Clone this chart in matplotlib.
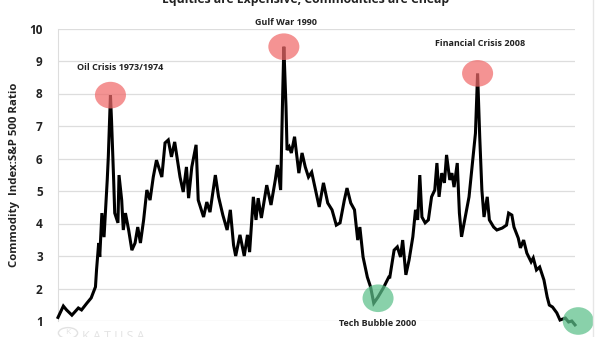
import matplotlib
matplotlib.use("Agg")
from matplotlib import pyplot as plt
from matplotlib.patches import Ellipse, Circle

years = [
    1969.0, 1969.5, 1969.8, 1970.3, 1970.9, 1971.2, 1971.7, 1972.1, 1972.5, 1972.6,
    1972.8, 1972.9, 1973.1, 1973.3, 1973.6, 1973.7, 1973.9, 1974.0, 1974.2, 1974.3,
    1974.6, 1974.7, 1974.95, 1975.1, 1975.3, 1975.6, 1975.9, 1976.2, 1976.45, 1976.7,
    1977.0, 1977.3, 1977.6, 1977.9, 1978.2, 1978.7, 1979.0, 1979.3, 1979.6, 1979.9,
    1980.4, 1980.7, 1981.0, 1981.2, 1981.5, 1981.9, 1982.1, 1982.6, 1982.9, 1983.2,
    1983.7, 1984.0, 1984.4, 1984.8, 1985.1, 1985.4, 1985.6, 1986.0, 1986.4, 1986.7,
    1986.9, 1987.25, 1987.5, 1987.7, 1988.0, 1988.5, 1988.9, 1989.3, 1989.5, 1989.8,
    1990.0, 1990.1, 1990.3, 1990.4, 1990.6, 1990.8, 1991.1, 1991.5, 1991.8, 1992.1,
    1992.4, 1992.7, 1993.0, 1993.4, 1993.8, 1994.2, 1994.6, 1995.0, 1995.35, 1995.75,
    1996.0, 1996.35, 1996.7, 1997.0, 1997.2, 1997.5, 1997.9, 1998.2, 1998.5, 1998.9,
    1999.4, 1999.9, 2000.0, 2000.4, 2000.7, 2001.0, 2001.2, 2001.5, 2001.8, 2002.15,
    2002.4, 2002.6, 2002.8, 2003.0, 2003.3, 2003.6, 2003.9, 2004.2, 2004.4, 2004.6,
    2004.85, 2005.1, 2005.3, 2005.6, 2005.8, 2006.0, 2006.3, 2006.5, 2006.7, 2007.0,
    2007.4, 2007.75, 2008.0, 2008.2, 2008.4, 2008.6, 2008.8, 2009.1, 2009.3, 2009.7,
    2010.0, 2010.5, 2010.9, 2011.1, 2011.4, 2011.6, 2012.0, 2012.2, 2012.5, 2012.8,
    2013.2, 2013.4, 2013.7, 2014.0, 2014.4, 2014.7, 2014.9, 2015.2, 2015.6, 2015.9,
    2016.4, 2016.7, 2017.0, 2017.3,
]
ratio = [
    1.11, 1.46, 1.34, 1.18, 1.40, 1.34, 1.55, 1.71, 2.05, 2.57,
    3.40, 2.97, 4.32, 3.58, 5.34, 6.05, 7.95, 7.18, 5.34, 4.32,
    4.02, 5.49, 4.72, 3.80, 4.32, 3.80, 3.18, 3.40, 3.89, 3.40,
    4.11, 5.03, 4.72, 5.43, 5.95, 5.43, 6.48, 6.57, 6.05, 6.51,
    5.43, 4.97, 5.74, 4.78, 5.74, 6.42, 4.72, 4.20, 4.66, 4.35,
    5.49, 4.82, 4.26, 3.80, 4.42, 3.34, 3.00, 3.65, 3.00, 3.65,
    3.12, 4.82, 4.11, 4.78, 4.17, 5.18, 4.57, 5.34, 5.80, 5.03,
    8.11, 9.44, 7.60, 6.26, 6.36, 6.17, 6.67, 5.55, 6.17, 5.74,
    5.43, 5.58, 5.12, 4.51, 5.25, 4.63, 4.42, 3.95, 4.02, 4.72,
    5.09, 4.63, 4.42, 3.49, 3.89, 2.97, 2.35, 2.05, 1.55, 1.74,
    2.02, 2.35, 2.35, 3.18, 3.28, 2.97, 3.49, 2.42, 2.88, 3.59,
    4.42, 4.11, 5.49, 4.20, 4.02, 4.11, 4.82, 5.03, 5.86, 4.82,
    5.55, 5.25, 6.11, 5.34, 5.55, 5.12, 5.86, 4.32, 3.59, 4.11,
    4.82, 5.95, 6.78, 8.62, 6.66, 5.03, 4.20, 4.82, 4.11, 3.89,
    3.80, 3.86, 3.95, 4.32, 4.26, 3.89, 3.55, 3.25, 3.49, 3.09,
    2.82, 2.94, 2.57, 2.66, 2.26, 1.74, 1.49, 1.43, 1.25, 1.03,
    1.09, 0.97, 1.00, 0.88,
]

# highlighted events: label, year, ratio at the marker, label height
peak_labels = ["Oil Crisis 1973/1974", "Gulf War 1990", "Financial Crisis 2008"]
peak_years = [1973.9, 1990.1, 2008.2]
peak_ratio = [7.95, 9.44, 8.62]
peak_label_y = [8.65, 10.05, 9.4]
trough_labels = ["Tech Bubble 2000", ""]
trough_years = [1998.9, 2017.6]
trough_ratio = [1.7, 1.0]
trough_label_y = [1.05, 0]
yticks = [1, 2, 3, 4, 5, 6, 7, 8, 9, 10]

plt.rcParams['font.family'] = ['Open Sans', 'DejaVu Sans']
ink = "#222222"

fig = plt.figure(figsize=(6, 3.37), dpi=100)
ax = fig.add_axes([58 / 600, 1 - 321 / 337, 517 / 600, 292.5 / 337])

ax.plot(years, ratio, color="black", lw=2.2, clip_on=False, zorder=3,
        solid_joinstyle="miter")

for lab, x, y, ly in zip(peak_labels, peak_years, peak_ratio, peak_label_y):
    ax.add_patch(Ellipse((x, y), 2.9, 0.82, color="#f06a6a", alpha=0.72,
                         lw=0, clip_on=False, zorder=4))
    ax.text(x + (0.9 if x < 1980 else 0.2), ly, lab, ha="center", va="bottom",
            fontsize=6.5, fontweight="bold", color=ink)

for lab, x, y, ly in zip(trough_labels, trough_years, trough_ratio, trough_label_y):
    ax.add_patch(Ellipse((x, y), 2.9, 0.85, color="#5cc08a", alpha=0.72,
                         lw=0, clip_on=False, zorder=4))
    if lab:
        ax.text(x, ly, lab, ha="center", va="top",
                fontsize=6.5, fontweight="bold", color=ink)

ax.set_xlim(1969, 2017.3)
ax.set_ylim(1, 10)
ax.set_yticks(yticks)
ax.set_yticklabels([str(t) for t in yticks], fontsize=8.5, fontweight="bold",
                   color=ink)
ax.tick_params(axis="y", length=0, pad=11)
ax.set_xticks([])
ax.grid(axis="y", color="#dddddd", lw=0.9)
ax.set_axisbelow(True)
for s in ["top", "right", "bottom"]:
    ax.spines[s].set_visible(False)
ax.spines["left"].set_color("#dddddd")
ax.set_ylabel("Commodity  Index:S&P 500 Ratio", fontsize=8.2, fontweight="bold",
              color=ink, labelpad=7)

# title sits mostly above the canvas edge
fig.text(0.51, 1 - 3.5 / 337, "Equities are Expensive, Commodities are Cheap",
         ha="center", va="baseline", fontsize=8.8, fontweight="bold", color=ink)

# faint watermark at the bottom left
fig.add_artist(Circle((68 / 600, 1 - 333 / 337), 0.016, transform=fig.transFigure,
                      fill=False, ec="#e2e2e2", lw=1))
fig.text(68 / 600, 1 - 333 / 337, "K", fontsize=6, color="#e2e2e2",
         ha="center", va="center")
fig.text(82 / 600, 1 - 343 / 337, "K A T U S A", fontsize=9, color="#e4e4e4",
         ha="left", va="bottom")

# right border of the frame
fig.add_artist(plt.Line2D([593 / 600, 593 / 600], [0, 1], color="#e6e6e6", lw=1))

fig.savefig("out.png", dpi=100)
